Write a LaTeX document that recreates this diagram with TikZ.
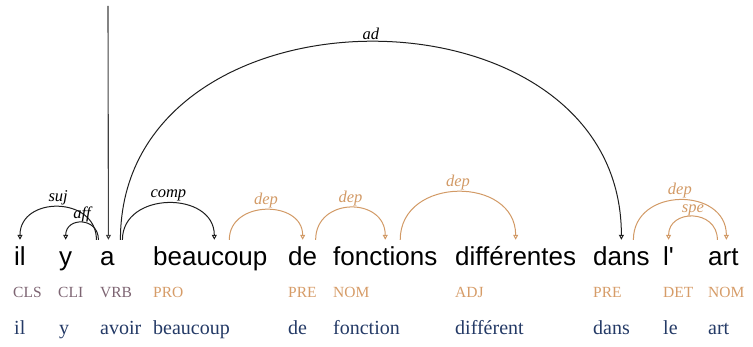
\documentclass[tikz,border=0pt]{standalone}
\usepackage{fontspec}
\setmainfont{Liberation Serif}
\newfontfamily\wordfont{Liberation Sans}
\usepackage{xcolor}
\usepackage{tikz}
\usetikzlibrary{
    positioning,
    arrows.meta,
    calc
}
\definecolor{arcblack}{HTML}{1E1E1E}
\definecolor{arcorange}{HTML}{D29A66}
\definecolor{tagorange}{HTML}{D69C68}
\definecolor{tagmauve}{HTML}{7D6472}
\definecolor{lemmablue}{HTML}{243A66}

\begin{document}
\begin{tikzpicture}[x=1pt, y=1pt,
    word/.style={anchor=base west, inner sep=0pt, text height=26pt,
                 font=\wordfont\fontsize{26}{30}\selectfont},
    tag/.style={anchor=base west, inner sep=0pt, font=\fontsize{15.5}{18}\selectfont},
    lemma/.style={anchor=base west, inner sep=0pt, text=lemmablue,
                  font=\fontsize{20}{24}\selectfont},
    arc/.style={-{Triangle[open, length=5pt, width=5pt]}, line width=1pt, draw=arcblack},
    deparc/.style={arc, draw=arcorange},
    lbl/.style={above, inner sep=1.5pt, font=\itshape\fontsize{16.5}{19}\selectfont},
    deplbl/.style={lbl, text=arcorange}]

    \useasboundingbox (0,0) rectangle (753,347);

    % Words
    \node[word] (il)          at (14, 81)  {il};
    \node[word] (y)           at (59, 81)  {y};
    \node[word] (a)           at (100, 81) {a};
    \node[word] (beaucoup)    at (153, 81) {beaucoup};
    \node[word] (de)          at (288, 81) {de};
    \node[word] (fonctions)   at (333, 81) {fonctions};
    \node[word] (differentes) at (455, 81) {différentes};
    \node[word] (dans)        at (593, 81) {dans};
    \node[word] (l)           at (663, 81) {l'};
    \node[word] (art)         at (708, 81) {art};

    % POS tags
    \node[tag, text=tagmauve]  (CLS)  at (13, 49)  {CLS};
    \node[tag, text=tagmauve]  (CLI)  at (58, 49)  {CLI};
    \node[tag, text=tagmauve]  (VRB)  at (100, 49) {VRB};
    \node[tag, text=tagorange] (PRO)  at (153, 49) {PRO};
    \node[tag, text=tagorange] (PRE)  at (288, 49) {PRE};
    \node[tag, text=tagorange] (NOM)  at (333, 49) {NOM};
    \node[tag, text=tagorange] (ADJ)  at (455, 49) {ADJ};
    \node[tag, text=tagorange] (PREb) at (593, 49) {PRE};
    \node[tag, text=tagorange] (DET)  at (663, 49) {DET};
    \node[tag, text=tagorange] (NOMb) at (708, 49) {NOM};

    % Lemmas
    \node[lemma] (Lil)       at (14, 12)  {il};
    \node[lemma] (Ly)        at (59, 12)  {y};
    \node[lemma] (Lavoir)    at (100, 12) {avoir};
    \node[lemma] (Lbeaucoup) at (153, 12) {beaucoup};
    \node[lemma] (Lde)       at (288, 12) {de};
    \node[lemma] (Lfonction) at (333, 12) {fonction};
    \node[lemma] (Ldiff)     at (455, 12) {différent};
    \node[lemma] (Ldans)     at (593, 12) {dans};
    \node[lemma] (Lle)       at (663, 12) {le};
    \node[lemma] (Lart)      at (708, 12) {art};

    % Root
    \coordinate (root) at (108, 341);
    \draw[arc, draw=black!75, line width=1.1pt] (root) -- ([xshift=1pt]a.north);

    % Arcs from the verb
    \draw[arc] ([xshift=-11pt]a.north) .. controls +(0,44) and +(0,44) .. (il.north)
      node[lbl, pos=0.5] {suj};
    \draw[arc] ([xshift=-9pt]a.north) .. controls +(0,23) and +(0,23) .. (y.north)
      node[lbl, pos=0.5, inner sep=0pt] {aff};
    \draw[arc] ([xshift=15pt]a.north) .. controls +(0,49) and +(0,49) .. ([xshift=4pt]beaucoup.north)
      node[lbl, pos=0.5] {comp};
    \draw[arc] ([xshift=13pt]a.north) .. controls +(0,264) and +(0,264) .. (dans.north)
      node[lbl, pos=0.5] {ad};

    % dep arcs
    \draw[deparc] ([xshift=19pt]beaucoup.north) .. controls +(0,40) and +(0,40) .. (de.north)
      node[deplbl, pos=0.5] {dep};
    \draw[deparc] ([xshift=13pt]de.north) .. controls +(0,43) and +(0,43) .. (fonctions.north)
      node[deplbl, pos=0.5] {dep};
    \draw[deparc] ([xshift=15pt]fonctions.north) .. controls +(0,64) and +(0,64) .. (differentes.north)
      node[deplbl, pos=0.5] {dep};
    \draw[deparc] ([xshift=12pt]dans.north) .. controls +(0,53) and +(0,53) .. ([xshift=3pt]art.north)
      node[deplbl, pos=0.5] {dep};
    \draw[deparc] ([xshift=-6pt]art.north) .. controls +(0,31) and +(0,31) .. (l.north)
      node[deplbl, pos=0.5, inner sep=0pt] {spe};

\end{tikzpicture}
\end{document}
